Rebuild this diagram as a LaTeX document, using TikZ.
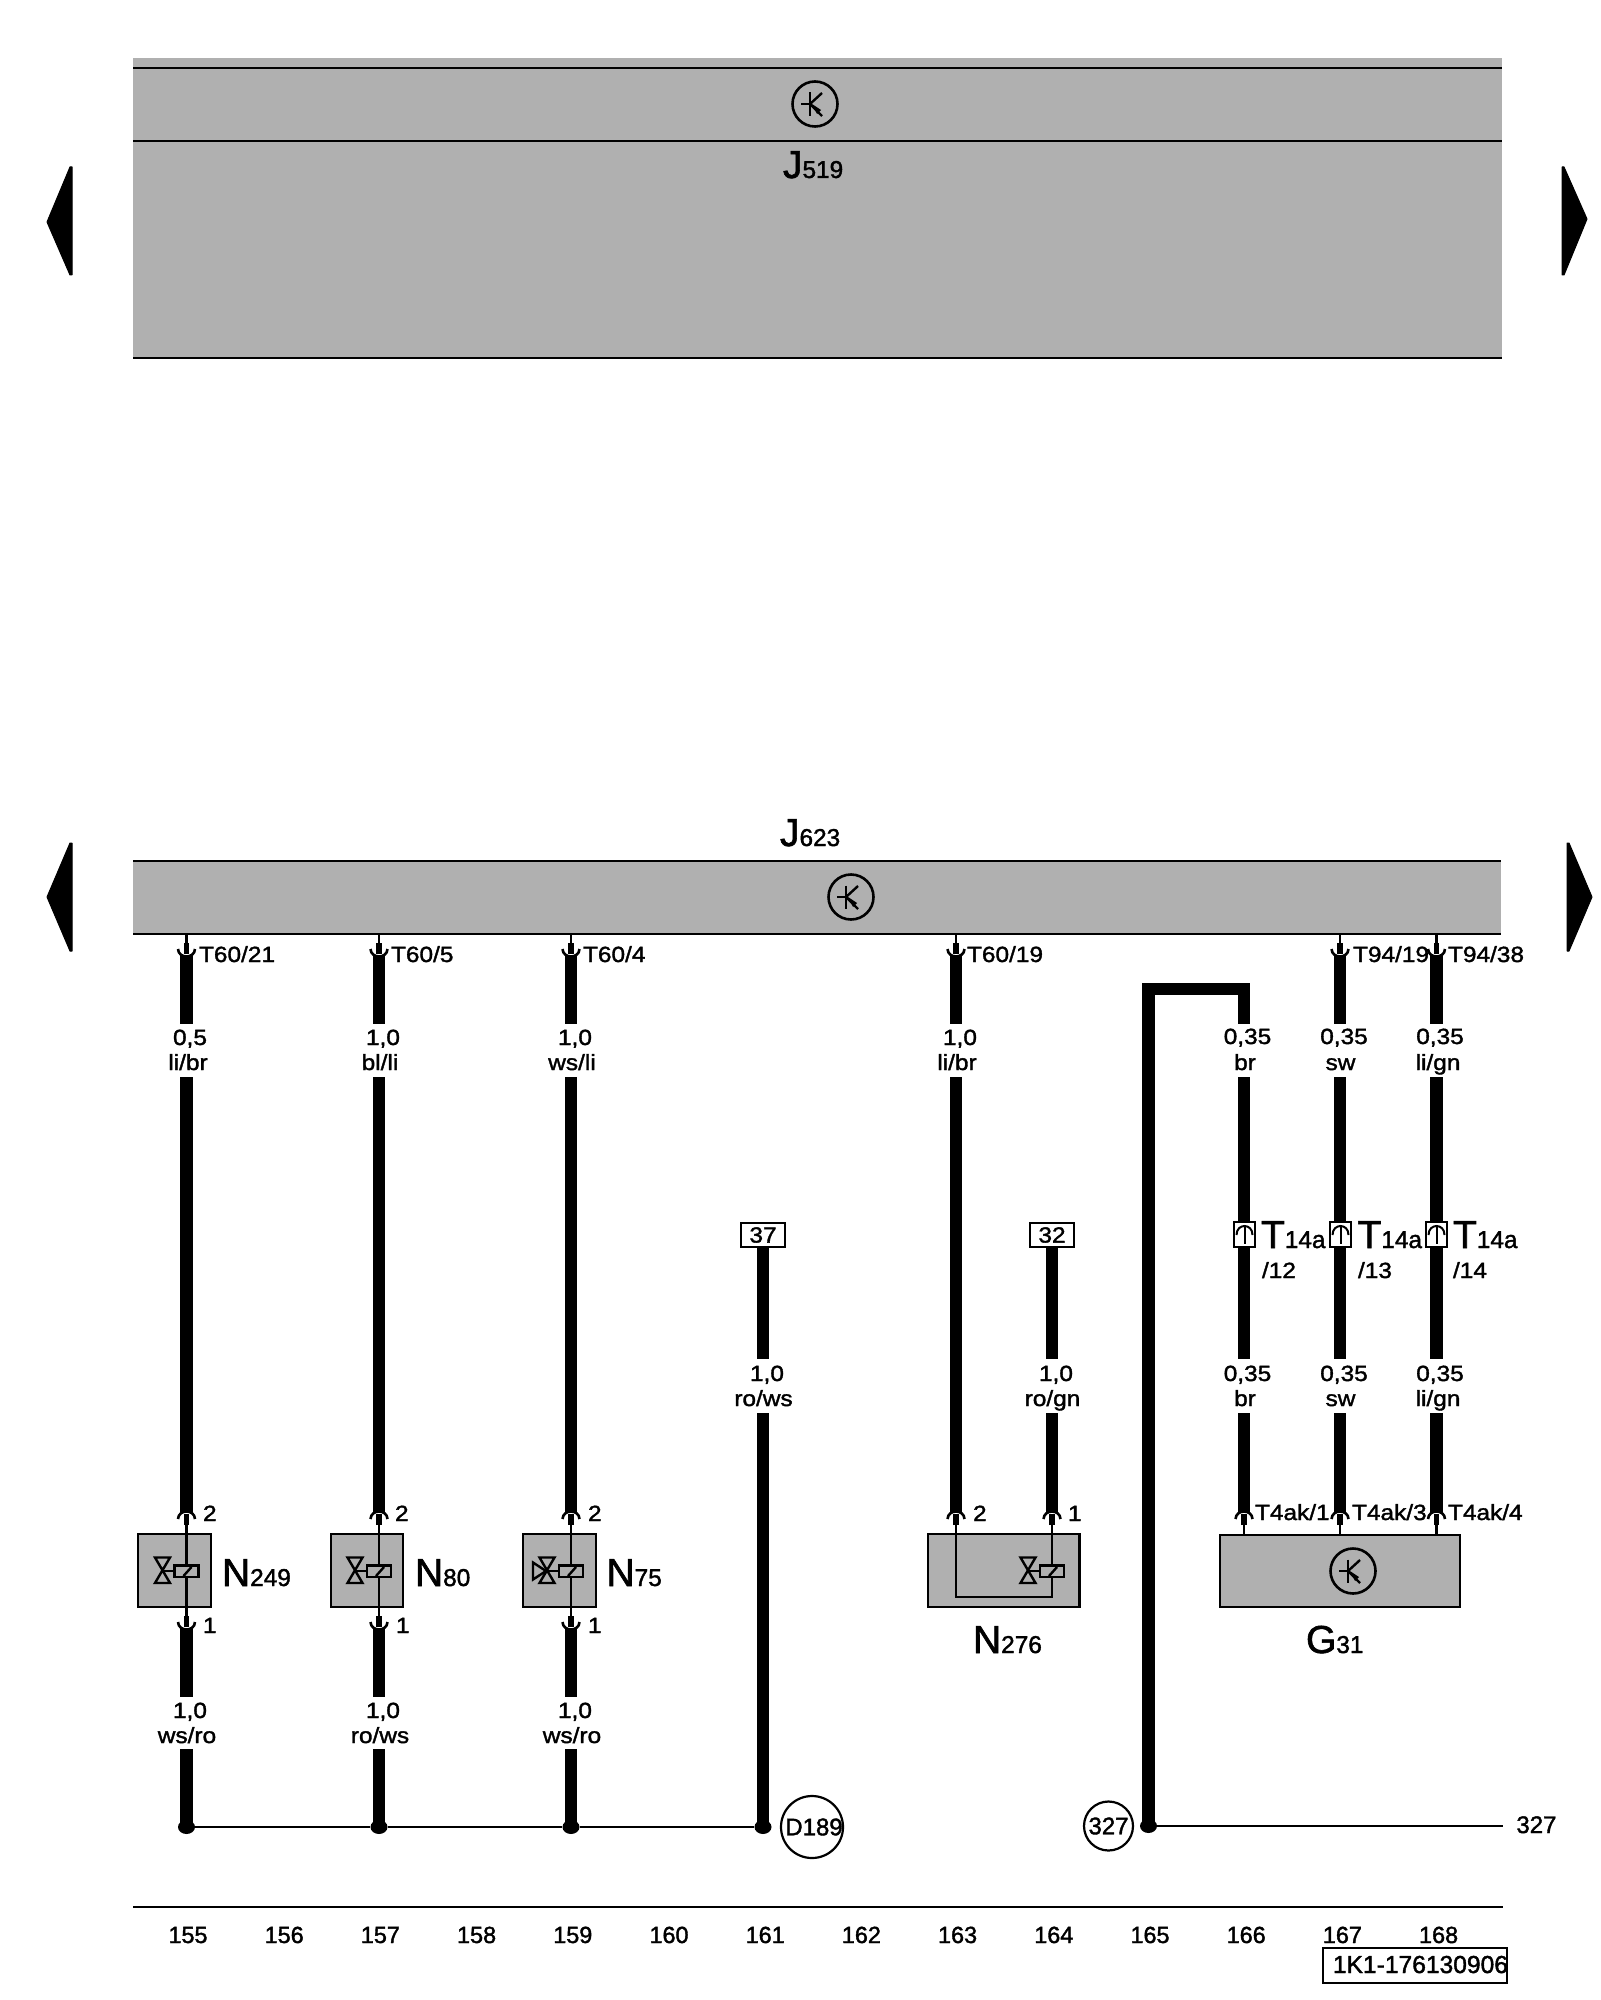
\documentclass[tikz,border=0pt]{standalone}
\usepackage{fontspec}
\setmainfont{Liberation Sans}
\newfontfamily\diagf{Liberation Sans}[FakeBold=1.6]
\newfontfamily\labf{Liberation Sans}[FakeStretch=1.11,FakeBold=1.6]
\newcommand{\smallf}{\labf\fontsize{11pt}{12pt}\selectfont}
\newcommand{\numf}{\diagf\fontsize{11.7pt}{12pt}\selectfont}
\newcommand{\circf}{\diagf\fontsize{12pt}{13pt}\selectfont}
\newcommand{\bigf}{\diagf\fontsize{19.5pt}{20pt}\selectfont}
\newcommand{\subf}{\diagf\fontsize{12.2pt}{13pt}\selectfont}
\usetikzlibrary{shapes.geometric}
\tikzset{
  x=0.5pt,y=-0.5pt,
  wire/.style={line width=6.2pt,line cap=butt,black},
  thinw/.style={line width=1.3pt,black},
  stubw/.style={line width=2.6pt,black},
  panel/.style={fill=panelgray,draw=none},
  rule/.style={line width=1.4pt,black},
  devbox/.style={draw=black,fill=panelgray,line width=1.3pt},
  lab/.style={inner sep=0pt,outer sep=0pt,anchor=base,font=\smallf},
  labw/.style={inner sep=0pt,outer sep=0pt,anchor=base west,font=\smallf},
  biglab/.style={inner sep=0pt,outer sep=0pt,anchor=base west},
  jdot/.style={ellipse,fill=black,inner sep=0pt,minimum width=8.5pt,minimum height=7pt},
  tagbox/.style={draw=black,fill=white,line width=1pt,inner sep=0pt,minimum width=22pt,minimum height=12pt,font=\smallf},
  conbox/.style={draw=black,fill=white,line width=1.1pt,inner sep=0pt,minimum width=10.6pt,minimum height=12.4pt},
  refc/.style={circle,draw=black,line width=1.1pt,inner sep=0pt,font=\circf},
  sheetarrow/.style={fill=black,draw=black,line width=0.5pt,line join=round},
}
\definecolor{panelgray}{HTML}{B0B0B0}
% pin symbol: name, x, edge y, direction (+1 down, -1 up)
\newcommand{\pinmark}[4]{%
  \coordinate (#1) at (#2,#3);
  \coordinate (#1s) at (#2,{#3+#4*9});
  \coordinate (#1e) at (#2,{#3+#4*20});
  \draw[thinw] (#1) -- (#1s);
  \draw[stubw] (#1s) -- (#1e);
  \draw[thinw] ({#2-8.5},{#3+#4*15}) .. controls ({#2-8},{#3+#4*25}) and ({#2+8},{#3+#4*25}) .. ({#2+8.5},{#3+#4*15});
}
% wire segment: name, x, y1, y2
\newcommand{\wseg}[4]{%
  \coordinate (#1a) at (#2,#3);
  \coordinate (#1b) at (#2,#4);
  \draw[wire] (#1a) -- (#1b);
}
% transistor symbol: name, cx, cy
\newcommand{\transsym}[3]{%
  \node[circle,draw=black,line width=1.3pt,minimum size=22.5pt,inner sep=0pt] (#1) at (#2,#3) {};
  \begin{scope}[shift={(#2,#3)}]
    \draw[line width=1.2pt] (-14,0) -- (-5,0);
    \draw[line width=1.2pt] (-5,-11.5) -- (-5,12);
    \draw[line width=1.2pt] (-5,0) -- (7,-11);
    \draw[line width=1.2pt] (-5,0) -- (7,12);
    \fill (-3,0) -- (6,6) -- (2,10) -- cycle;
  \end{scope}
}
% coil and valve: wire x
\newcommand{\coilsym}[1]{%
  \draw[line width=1.2pt,fill=panelgray] ({#1-12},1565.5) rectangle ({#1+12},1577);
  \draw[line width=1.2pt] ({#1-3},1576) -- ({#1+5},1567);
  \draw[line width=1.2pt] ({#1-24},1571) -- ({#1-12},1571);
}
\newcommand{\valvesym}[1]{%
  \draw[line width=1.2pt,line join=miter] ({#1-31.5},1557.5) -- ({#1-16.5},1557.5) -- ({#1-31.5},1583) -- ({#1-16.5},1583) -- cycle;
}
\newcommand{\conglyph}[2]{%
  \node[conbox] (#1) at (#2,1234.2) {};
  \draw[line width=1pt] ({#2-8},1235) .. controls ({#2-8},1223) and ({#2+8},1223) .. ({#2+8},1235);
  \draw[line width=1pt] (#2,1227) -- (#2,1244);
  \fill ({#2-1},1236) rectangle ({#2+1},1244);
}
\begin{document}
\begin{tikzpicture}
\useasboundingbox (0,0) rectangle (1600,2000);
\fill[white] (0,0) rectangle (1600,2000);

% ---- J519 panel
\fill[panel] (133,58) rectangle (1502,358);
\draw[rule] (133,68) -- (1502,68);
\draw[rule] (133,141) -- (1502,141);
\draw[rule] (133,358) -- (1502,358);
\transsym{tJ519}{815}{104}
\node[biglab] (J519) at (783,178) {\bigf J\subf 519};

% ---- sheet arrows
\fill[sheetarrow] (70,167) -- (72,167) -- (72,275) -- (70,275) -- (47,222) -- cycle;
\fill[sheetarrow] (1564,167) -- (1562,167) -- (1562,275) -- (1564,275) -- (1587,219) -- cycle;
\fill[sheetarrow] (70,843) -- (72,843) -- (72,951) -- (70,951) -- (47,897) -- cycle;
\fill[sheetarrow] (1569,843) -- (1567,843) -- (1567,951) -- (1569,951) -- (1592,897) -- cycle;

% ---- J623 panel
\fill[panel] (133,861) rectangle (1501,934);
\draw[rule] (133,861) -- (1501,861);
\draw[rule] (133,934) -- (1501,934);
\transsym{tJ623}{851}{897}
\node[biglab] (J623) at (780,846) {\bigf J\subf 623};

% ---- device boxes
\node[devbox,minimum width=36.5pt,minimum height=36.5pt,inner sep=0pt] (N249) at (174.5,1570.5) {};
\node[devbox,minimum width=36pt,minimum height=36.5pt,inner sep=0pt] (N80) at (367,1570.5) {};
\node[devbox,minimum width=36.5pt,minimum height=36.5pt,inner sep=0pt] (N75) at (559.5,1570.5) {};
\node[devbox,minimum width=75.8pt,minimum height=36.5pt,inner sep=0pt] (N276) at (1003.8,1570.5) {};
\node[devbox,minimum width=120pt,minimum height=36pt,inner sep=0pt] (G31) at (1340,1571) {};

% ---- pins at J623
\pinmark{pA}{186.5}{934}{1}
\pinmark{pB}{379}{934}{1}
\pinmark{pC}{571}{934}{1}
\pinmark{pD}{956}{934}{1}
\pinmark{pE}{1340}{934}{1}
\pinmark{pF}{1436.5}{934}{1}

% ---- pins at devices
\pinmark{qA}{186.5}{1534}{-1}
\pinmark{qB}{379}{1534}{-1}
\pinmark{qC}{571}{1534}{-1}
\pinmark{rA}{186.5}{1607}{1}
\pinmark{rB}{379}{1607}{1}
\pinmark{rC}{571}{1607}{1}
\pinmark{qD}{956}{1534}{-1}
\pinmark{qE}{1052}{1534}{-1}
\pinmark{qF}{1244}{1534}{-1}
\pinmark{qG}{1340}{1534}{-1}
\pinmark{qH}{1436.5}{1534}{-1}

% ---- thin runs inside devices
\draw[thinw] (qA) -- (rA);
\draw[thinw] (qB) -- (rB);
\draw[thinw] (qC) -- (rC);
\draw[thinw] (qD) |- (1052,1597) -- (qE);
\coilsym{186.5}\coilsym{379}\coilsym{571}\coilsym{1052}
\valvesym{186.5}\valvesym{379}\valvesym{571}\valvesym{1052}
\draw[line width=1.2pt,line join=miter] (546,1571) -- (533,1562.5) -- (533,1579.5) -- cycle;
\transsym{tG31}{1353}{1571}

% ---- heavy wires
\wseg{wAa}{186.5}{956}{1024}
\wseg{wAb}{186.5}{1077}{1512}
\wseg{wAc}{186.5}{1629}{1697}
\wseg{wAd}{186.5}{1749}{1826}
\wseg{wBa}{379}{956}{1024}
\wseg{wBb}{379}{1077}{1512}
\wseg{wBc}{379}{1629}{1697}
\wseg{wBd}{379}{1749}{1826}
\wseg{wCa}{571}{956}{1024}
\wseg{wCb}{571}{1077}{1512}
\wseg{wCc}{571}{1629}{1697}
\wseg{wCd}{571}{1749}{1826}
\wseg{wDa}{956}{956}{1024}
\wseg{wDb}{956}{1077}{1512}
\wseg{wXa}{763}{1247}{1359}
\wseg{wXb}{763}{1413}{1826}
\wseg{wYa}{1052}{1247}{1359}
\wseg{wYb}{1052}{1413}{1512}
\coordinate (bendL) at (1148.5,989);
\coordinate (bendR) at (1244,989);
\coordinate (wFt) at (1244,1024);
\node[jdot] (jE) at (1148.5,1826) {};
\draw[wire,line join=miter] (jE.center) -- (bendL) -- (bendR) -- (wFt);
\wseg{wFb}{1244}{1077}{1359}
\wseg{wFc}{1244}{1413}{1512}
\wseg{wGa}{1340}{956}{1024}
\wseg{wGb}{1340}{1077}{1359}
\wseg{wGc}{1340}{1413}{1512}
\wseg{wHa}{1436.5}{956}{1024}
\wseg{wHb}{1436.5}{1077}{1359}
\wseg{wHc}{1436.5}{1413}{1512}

% ---- ground bus
\node[jdot] (jA) at (186.5,1827) {};
\node[jdot] (jB) at (379,1827) {};
\node[jdot] (jC) at (571,1827) {};
\node[jdot] (jD) at (763,1827) {};
\draw[thinw] (jA) -- (jB) -- (jC) -- (jD);
\node[refc,minimum size=31pt] (D189) at (812,1827) {};
\node[inner sep=0pt,font=\circf] (D189t) at (814,1827) {D189};
\node[refc,minimum size=24.5pt] (c327) at (1108.5,1826) {327};
\coordinate (busend) at (1503,1826);
\draw[thinw] (jE) -- (busend);
\node[inner sep=0pt,anchor=base west,font=\circf] (t327) at (1516,1833) {327};

% ---- tag boxes
\node[tagbox] (b37) at (763,1235) {37};
\node[tagbox] (b32) at (1052,1235) {32};

% ---- in-line connectors
\conglyph{cF}{1244.5}
\conglyph{cG}{1340.5}
\conglyph{cH}{1436.5}

% ---- pin labels
\node[labw] (lA) at (199,962) {T60/21};
\node[labw] (lB) at (391,962) {T60/5};
\node[labw] (lC) at (583,962) {T60/4};
\node[labw] (lD) at (967,962) {T60/19};
\node[labw] (lE) at (1353,962) {T94/19};
\node[labw] (lF) at (1448,962) {T94/38};
\foreach \n/\x in {a/203,b/395,c/588,d/973}{\node[labw] (two\n) at (\x,1521) {2};}
\foreach \n/\x in {a/203,b/396,c/588}{\node[labw] (one\n) at (\x,1633) {1};}
\node[labw] (onee) at (1068,1521) {1};
\node[labw] (tka) at (1255,1520) {T4ak/1};
\node[labw] (tkb) at (1352,1520) {T4ak/3};
\node[labw] (tkc) at (1448,1520) {T4ak/4};

% ---- wire labels
\node[lab] (ga1) at (190,1045) {0,5};   \node[lab] (ca1) at (188,1070) {li/br};
\node[lab] (gb1) at (383,1045) {1,0};   \node[lab] (cb1) at (380,1070) {bl/li};
\node[lab] (gc1) at (575,1045) {1,0};   \node[lab] (cc1) at (572,1070) {ws/li};
\node[lab] (gd1) at (960,1045) {1,0};   \node[lab] (cd1) at (957,1070) {li/br};
\node[lab] (gf1) at (1247.5,1044) {0,35}; \node[lab] (cf1) at (1245,1070) {br};
\node[lab] (gg1) at (1344,1044) {0,35}; \node[lab] (cg1) at (1340.5,1070) {sw};
\node[lab] (gh1) at (1440,1044) {0,35}; \node[lab] (ch1) at (1438,1070) {li/gn};
\node[lab] (gx) at (767,1381) {1,0};    \node[lab] (cx) at (763.5,1406) {ro/ws};
\node[lab] (gy) at (1056,1381) {1,0};   \node[lab] (cy) at (1052.5,1406) {ro/gn};
\node[lab] (gf2) at (1247.5,1381) {0,35}; \node[lab] (cf2) at (1245,1406) {br};
\node[lab] (gg2) at (1344,1381) {0,35}; \node[lab] (cg2) at (1340.5,1406) {sw};
\node[lab] (gh2) at (1440,1381) {0,35}; \node[lab] (ch2) at (1438,1406) {li/gn};
\node[lab] (ga2) at (190,1718) {1,0};   \node[lab] (ca2) at (187,1743) {ws/ro};
\node[lab] (gb2) at (383,1718) {1,0};   \node[lab] (cb2) at (380,1743) {ro/ws};
\node[lab] (gc2) at (575,1718) {1,0};   \node[lab] (cc2) at (572,1743) {ws/ro};

% ---- component labels
\node[biglab] (nN249) at (222,1586) {\bigf N\subf 249};
\node[biglab] (nN80) at (415,1586) {\bigf N\subf 80};
\node[biglab] (nN75) at (606.5,1586) {\bigf N\subf 75};
\node[biglab] (nN276) at (973,1653) {\bigf N\subf 276};
\node[biglab] (nG31) at (1306,1653) {\bigf G\subf 31};
\node[biglab] (nTa) at (1261,1248) {\bigf T\subf 14a};
\node[biglab] (nTb) at (1357.5,1248) {\bigf T\subf 14a};
\node[biglab] (nTc) at (1453,1248) {\bigf T\subf 14a};
\node[labw] (sa) at (1262,1278) {/12};
\node[labw] (sb) at (1358,1278) {/13};
\node[labw] (sc) at (1453,1278) {/14};

% ---- footer
\draw[rule] (133,1907) -- (1503,1907);
\foreach \i in {0,...,13}{
  \pgfmathtruncatemacro{\col}{155+\i}
  \node[inner sep=0pt,anchor=base,font=\numf] (col\col) at ({188+96.2*\i},1943) {\col};
}
\node[draw=black,line width=1.1pt,minimum width=92pt,minimum height=17.6pt,inner sep=0pt] (refbox) at (1415,1965.5) {};
\node[inner sep=0pt,anchor=base west] (reftxt) at (1332.5,1973) {\diagf\fontsize{12.3pt}{13pt}\selectfont 1K1-176130906};
\end{tikzpicture}
\end{document}
